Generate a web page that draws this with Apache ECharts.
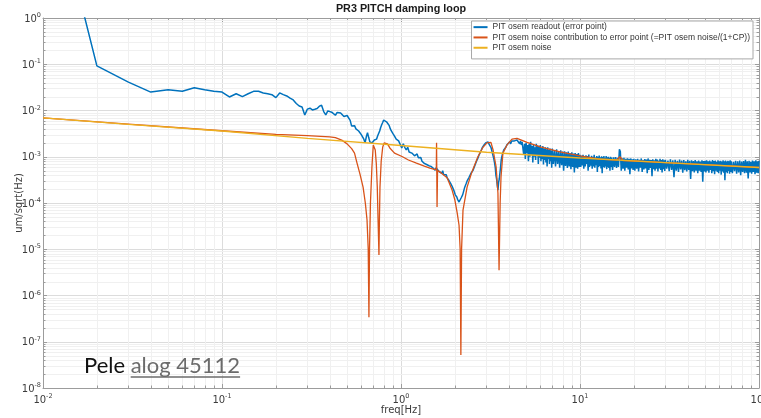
<!DOCTYPE html>
<html>
<head>
<meta charset="utf-8">
<script src="https://cdn.jsdelivr.net/npm/echarts@6/dist/echarts.min.js"></script>
<style>
  html, body { margin: 0; padding: 0; background: #ffffff; }
  #chart { width: 761px; height: 418px; }
</style>
</head>
<body>
<div id="chart"></div>
<script>
// PR3 PITCH damping loop: amplitude spectral densities [um/sqrt(Hz)] vs frequency [Hz]

const seriesNames = [
  'PIT osem readout (error point)',
  'PIT osem noise contribution to error point (=PIT osem noise/(1+CP))',
  'PIT osem noise'
];

// tick labels are powers of ten: base "10" with these exponents
const xTickExponents = ['-2', '-1', '0', '1', '2'];
const yTickExponents = ['-8', '-7', '-6', '-5', '-4', '-3', '-2', '-1', '0'];

// error-point readout, low-frequency bins
const readoutLow = [
  [0.01, 4000], [0.02, 0.092], [0.03, 0.041], [0.04, 0.025], [0.05, 0.028], [0.06, 0.026],
  [0.07, 0.031], [0.08, 0.028], [0.09, 0.026], [0.10, 0.025], [0.11, 0.0196], [0.12, 0.023],
  [0.13, 0.020], [0.14, 0.023], [0.15, 0.026], [0.16, 0.026], [0.17, 0.024], [0.18, 0.023],
  [0.19, 0.022], [0.20, 0.019]
];

// error-point readout, 0.2 - 4.8 Hz
const readoutMid = [
  [0.21, 0.024], [0.22, 0.022], [0.23, 0.0206], [0.24, 0.0185], [0.25, 0.0169], [0.26, 0.0142],
  [0.27, 0.0125], [0.28, 0.0119], [0.29, 0.0080], [0.30, 0.0107], [0.31, 0.0112], [0.32, 0.0103],
  [0.33, 0.0106], [0.34, 0.0110], [0.35, 0.0124], [0.36, 0.0130], [0.37, 0.0095], [0.38, 0.0080],
  [0.39, 0.0098], [0.40, 0.0103], [0.41, 0.0092], [0.42, 0.0084], [0.43, 0.0079], [0.44, 0.0091],
  [0.45, 0.0086], [0.46, 0.0088], [0.47, 0.0081], [0.48, 0.0074], [0.49, 0.0071], [0.50, 0.0078],
  [0.51, 0.0080], [0.52, 0.0061], [0.53, 0.0046], [0.54, 0.0044], [0.55, 0.0047], [0.56, 0.0040],
  [0.57, 0.0038], [0.58, 0.0036], [0.59, 0.0033], [0.60, 0.0030], [0.61, 0.0029], [0.62, 0.0024],
  [0.63, 0.0020], [0.64, 0.0027], [0.65, 0.0033], [0.66, 0.0026], [0.67, 0.0021], [0.68, 0.0023],
  [0.69, 0.0020], [0.70, 0.0020], [0.71, 0.0023], [0.72, 0.0025], [0.73, 0.0024], [0.74, 0.0028],
  [0.75, 0.0030], [0.76, 0.0036], [0.77, 0.0043], [0.78, 0.0049], [0.79, 0.0055], [0.80, 0.0062],
  [0.81, 0.0066], [0.82, 0.0063], [0.83, 0.0057], [0.84, 0.0059], [0.85, 0.0054], [0.86, 0.0047],
  [0.87, 0.0041], [0.88, 0.0037], [0.89, 0.0034], [0.90, 0.0032], [0.92, 0.0028], [0.94, 0.0024],
  [0.95, 0.0025], [0.97, 0.0022], [0.99, 0.0021], [1.01, 0.00155], [1.03, 0.0019], [1.05, 0.0016],
  [1.07, 0.0014], [1.09, 0.0016], [1.11, 0.00127], [1.13, 0.0014], [1.15, 0.0012], [1.17, 0.00125],
  [1.19, 0.00105], [1.21, 0.0011], [1.23, 0.00115], [1.25, 0.00095], [1.27, 0.00088], [1.29, 0.00096],
  [1.31, 0.0008], [1.33, 0.00086], [1.35, 0.00072], [1.37, 0.00079], [1.39, 0.00068], [1.41, 0.00075],
  [1.43, 0.00064], [1.45, 0.0007], [1.47, 0.00062], [1.49, 0.00066], [1.51, 0.00057], [1.53, 0.00061],
  [1.55, 0.00051], [1.57, 0.00058], [1.59, 0.00055], [1.61, 0.00059], [1.63, 0.00048], [1.65, 0.00053],
  [1.67, 0.00046], [1.69, 0.00044], [1.71, 0.0005], [1.73, 0.00041], [1.75, 0.00043], [1.77, 0.00038],
  [1.79, 0.00041], [1.81, 0.00035], [1.83, 0.00036], [1.85, 0.00031], [1.87, 0.00032], [1.89, 0.00027],
  [1.91, 0.00028], [1.93, 0.00023], [1.95, 0.00022], [1.97, 0.00019], [1.99, 0.00018], [2.01, 0.00015],
  [2.03, 0.00016], [2.05, 0.000135], [2.07, 0.00012], [2.09, 0.00011], [2.11, 0.000105], [2.13, 0.000098],
  [2.15, 0.00011], [2.17, 0.00013], [2.19, 0.00012], [2.21, 0.00015], [2.23, 0.00017], [2.25, 0.00018],
  [2.27, 0.00022], [2.29, 0.00021], [2.31, 0.00026], [2.33, 0.00027], [2.35, 0.00031], [2.37, 0.0003],
  [2.40, 0.00036], [2.43, 0.00038], [2.46, 0.00044], [2.49, 0.00043], [2.52, 0.0005], [2.55, 0.00053],
  [2.58, 0.00063], [2.61, 0.00068], [2.64, 0.0008], [2.67, 0.00086], [2.70, 0.00097], [2.73, 0.0011],
  [2.76, 0.00115], [2.79, 0.0013], [2.82, 0.00135], [2.85, 0.0016], [2.88, 0.0015], [2.91, 0.0018],
  [2.94, 0.0017], [2.97, 0.0020], [3.00, 0.0019], [3.03, 0.0022], [3.06, 0.0021], [3.09, 0.0022],
  [3.12, 0.0018], [3.15, 0.0019], [3.18, 0.0016], [3.21, 0.0014], [3.24, 0.0012], [3.27, 0.0011],
  [3.30, 0.0009], [3.33, 0.00075], [3.36, 0.0006], [3.39, 0.0004], [3.42, 0.00033], [3.45, 0.00024],
  [3.48, 0.00019], [3.51, 0.00028], [3.54, 0.00033], [3.57, 0.00036], [3.60, 0.0006], [3.63, 0.00085],
  [3.66, 0.001], [3.69, 0.00115], [3.72, 0.0012], [3.75, 0.0014], [3.80, 0.0015], [3.85, 0.0016],
  [3.90, 0.0018], [3.95, 0.0017], [4.00, 0.0019], [4.05, 0.0021], [4.10, 0.0019], [4.15, 0.0022],
  [4.20, 0.0021], [4.25, 0.0024], [4.30, 0.0022], [4.35, 0.0023], [4.40, 0.0020], [4.45, 0.0023],
  [4.50, 0.0021], [4.55, 0.0024], [4.60, 0.0019], [4.65, 0.0022], [4.70, 0.0018], [4.75, 0.0021]
];

// error-point readout, 4.8 - 100 Hz (sensor-noise dominated band)
const readoutHigh = [
  [4.80, 2.2e-3], [4.85, 1.1e-3], [4.90, 1.9e-3], [4.95, 0.9e-3], [5.00, 2.0e-3], [5.05, 1.2e-3],
  [5.10, 1.8e-3], [5.15, 0.8e-3], [5.20, 1.9e-3], [5.25, 1.0e-3], [5.30, 2.1e-3], [5.35, 1.1e-3],
  [5.40, 1.7e-3], [5.45, 0.75e-3], [5.50, 1.85e-3], [5.55, 1.0e-3], [5.60, 1.6e-3], [5.65, 0.85e-3],
  [5.70, 1.9e-3], [5.75, 1.05e-3], [5.80, 1.75e-3], [5.85, 0.7e-3], [5.90, 1.7e-3], [5.95, 0.95e-3],
  [6.00, 1.8e-3], [6.05, 0.8e-3], [6.10, 1.55e-3], [6.15, 0.9e-3], [6.20, 1.7e-3], [6.25, 0.68e-3],
  [6.30, 1.5e-3], [6.35, 0.85e-3], [6.40, 1.6e-3], [6.45, 0.75e-3], [6.50, 1.45e-3], [6.55, 0.62e-3],
  [6.60, 1.6e-3], [6.65, 0.9e-3], [6.70, 1.4e-3], [6.75, 0.7e-3], [6.80, 1.5e-3], [6.85, 0.8e-3],
  [6.90, 1.35e-3], [6.95, 0.58e-3], [7.00, 1.5e-3],
  [7.1, 0.7e-3], [7.2, 1.4e-3], [7.3, 0.62e-3], [7.4, 1.45e-3], [7.5, 0.7e-3], [7.6, 1.3e-3],
  [7.7, 0.58e-3], [7.8, 1.38e-3], [7.9, 0.66e-3], [8.0, 1.3e-3], [8.1, 0.5e-3], [8.2, 1.32e-3],
  [8.3, 0.63e-3], [8.4, 1.25e-3], [8.5, 0.57e-3], [8.6, 1.3e-3], [8.7, 0.62e-3], [8.8, 1.2e-3],
  [8.9, 0.54e-3], [9.0, 1.25e-3], [9.1, 0.6e-3], [9.2, 1.18e-3], [9.3, 0.46e-3], [9.4, 1.2e-3],
  [9.5, 0.58e-3], [9.6, 1.15e-3], [9.7, 0.55e-3], [9.8, 1.2e-3], [9.9, 0.6e-3], [10.0, 1.1e-3],
  [10.1, 0.6e-3], [10.2, 1.05e-3], [10.3, 0.65e-3], [10.4, 1.1e-3], [10.5, 0.55e-3], [10.6, 1.0e-3],
  [10.7, 0.62e-3], [10.8, 1.08e-3], [10.9, 0.7e-3], [11.0, 1.04e-3], [11.1, 0.5e-3], [11.2, 1.12e-3],
  [11.3, 0.6e-3], [11.4, 0.98e-3], [11.5, 0.64e-3], [11.6, 1.05e-3], [11.7, 0.55e-3], [11.8, 1.0e-3],
  [11.9, 0.62e-3], [12.0, 1.1e-3], [12.1, 0.58e-3], [12.2, 0.96e-3], [12.3, 0.66e-3], [12.4, 1.04e-3],
  [12.5, 0.47e-3], [12.6, 1.0e-3], [12.7, 0.6e-3], [12.8, 1.06e-3], [12.9, 0.63e-3], [13.0, 0.97e-3],
  [13.1, 0.56e-3], [13.2, 1.02e-3], [13.3, 0.44e-3], [13.4, 0.99e-3], [13.5, 0.6e-3], [13.6, 1.03e-3],
  [13.7, 0.58e-3], [13.8, 0.95e-3], [13.9, 0.62e-3], [14.0, 1.04e-3], [14.1, 0.54e-3], [14.2, 0.97e-3],
  [14.3, 0.6e-3], [14.4, 1.0e-3], [14.5, 0.57e-3], [14.6, 0.94e-3], [14.7, 0.5e-3], [14.8, 1.0e-3],
  [14.9, 0.6e-3], [15.0, 0.96e-3],
  [15.2, 0.52e-3], [15.4, 0.97e-3], [15.6, 0.6e-3], [15.8, 0.99e-3], [16.0, 0.57e-3], [16.2, 0.95e-3],
  [16.4, 0.6e-3], [16.6, 1.45e-3], [16.8, 1.3e-3], [17.0, 0.5e-3], [17.2, 0.92e-3], [17.4, 0.55e-3],
  [17.6, 0.95e-3], [17.8, 0.5e-3], [18.0, 0.9e-3], [18.2, 0.58e-3], [18.4, 0.93e-3], [18.6, 0.53e-3],
  [18.8, 0.9e-3], [19.0, 0.42e-3], [19.2, 0.92e-3], [19.4, 0.56e-3], [19.6, 0.88e-3], [19.8, 0.52e-3],
  [20.0, 0.9e-3],
  [20.25, 0.5e-3], [20.5, 0.88e-3], [20.75, 0.55e-3], [21.0, 0.9e-3], [21.25, 0.48e-3], [21.5, 0.86e-3],
  [21.75, 0.58e-3], [22.0, 0.92e-3], [22.25, 0.47e-3], [22.5, 0.85e-3], [22.75, 0.53e-3], [23.0, 0.89e-3],
  [23.25, 0.56e-3], [23.5, 0.87e-3], [23.75, 0.44e-3], [24.0, 0.92e-3], [24.25, 0.52e-3], [24.5, 0.86e-3],
  [24.75, 0.57e-3], [25.0, 0.85e-3], [25.25, 0.38e-3], [25.5, 0.88e-3], [25.75, 0.54e-3], [26.0, 0.84e-3],
  [26.25, 0.5e-3], [26.5, 0.9e-3], [26.75, 0.55e-3], [27.0, 0.87e-3], [27.25, 0.48e-3], [27.5, 0.83e-3],
  [27.75, 0.56e-3], [28.0, 0.9e-3], [28.25, 0.52e-3], [28.5, 0.85e-3], [28.75, 0.46e-3], [29.0, 0.88e-3],
  [29.25, 0.54e-3], [29.5, 0.84e-3], [29.75, 0.49e-3], [30.0, 0.86e-3],
  [30.5, 0.55e-3], [31.0, 0.83e-3], [31.5, 0.49e-3], [32.0, 0.88e-3], [32.5, 0.52e-3], [33.0, 0.84e-3],
  [33.5, 0.36e-3], [34.0, 0.86e-3], [34.5, 0.5e-3], [35.0, 0.82e-3], [35.5, 0.47e-3], [36.0, 0.87e-3],
  [36.5, 0.53e-3], [37.0, 0.83e-3], [37.5, 0.45e-3], [38.0, 0.85e-3], [38.5, 0.51e-3], [39.0, 0.8e-3],
  [39.5, 0.48e-3], [40.0, 0.86e-3], [40.5, 0.52e-3], [41.0, 0.82e-3], [41.5, 0.33e-3], [42.0, 0.84e-3],
  [42.5, 0.49e-3], [43.0, 0.81e-3], [43.5, 0.46e-3], [44.0, 0.85e-3], [44.5, 0.5e-3], [45.0, 0.8e-3],
  [45.5, 0.44e-3], [46.0, 0.83e-3], [46.5, 0.5e-3], [47.0, 0.79e-3], [47.5, 0.47e-3], [48.0, 0.84e-3],
  [48.5, 0.29e-3], [49.0, 0.81e-3], [49.5, 0.48e-3], [50.0, 0.82e-3],
  [50.5, 0.46e-3], [51.0, 0.84e-3], [51.5, 0.5e-3], [52.0, 0.8e-3], [52.5, 0.45e-3], [53.0, 0.83e-3],
  [53.5, 0.52e-3], [54.0, 0.79e-3], [54.5, 0.44e-3], [55.0, 0.85e-3], [55.5, 0.49e-3], [56.0, 0.81e-3],
  [56.5, 0.42e-3], [57.0, 0.83e-3], [57.5, 0.5e-3], [58.0, 0.78e-3], [58.5, 0.47e-3], [59.0, 0.84e-3],
  [59.5, 0.44e-3], [60.0, 0.8e-3], [60.5, 0.5e-3], [61.0, 0.82e-3], [61.5, 0.41e-3], [62.0, 0.79e-3],
  [62.5, 0.48e-3], [63.0, 0.84e-3], [63.5, 0.45e-3], [64.0, 0.8e-3], [64.5, 0.31e-3], [65.0, 0.83e-3],
  [65.5, 0.47e-3], [66.0, 0.79e-3], [66.5, 0.44e-3], [67.0, 0.82e-3], [67.5, 0.49e-3], [68.0, 0.8e-3],
  [68.5, 0.43e-3], [69.0, 0.84e-3], [69.5, 0.47e-3], [70.0, 0.8e-3],
  [71, 0.44e-3], [72, 0.78e-3], [73, 0.49e-3], [74, 0.82e-3], [75, 0.43e-3], [76, 0.8e-3],
  [77, 0.46e-3], [78, 0.83e-3], [79, 0.4e-3], [80, 0.79e-3], [81, 0.47e-3], [82, 0.81e-3],
  [83, 0.44e-3], [84, 0.86e-3], [85, 0.45e-3], [86, 0.8e-3], [87, 0.34e-3], [88, 0.82e-3],
  [89, 0.46e-3], [90, 0.78e-3], [91, 0.43e-3], [92, 0.83e-3], [93, 0.47e-3], [94, 0.8e-3],
  [95, 0.42e-3], [96, 0.84e-3], [97, 0.45e-3], [98, 0.79e-3], [99, 0.44e-3], [100, 0.82e-3]
];

// osem noise propagated to the error point: noise / (1 + CP)
const noiseContribution = [
  [0.01, 6.9e-3], [0.03, 5.05e-3], [0.1, 3.65e-3], [0.2, 3.05e-3], [0.3, 2.85e-3], [0.4, 2.7e-3],
  [0.43, 2.6e-3], [0.47, 2.25e-3], [0.5, 1.9e-3], [0.53, 1.5e-3], [0.55, 1.2e-3], [0.568, 7.3e-4],
  [0.59, 4.2e-4], [0.614, 2.2e-4], [0.632, 1.0e-4], [0.646, 4.3e-5], [0.656, 1.0e-5], [0.662, 3.4e-7],
  [0.667, 1.0e-5], [0.675, 1.0e-4], [0.688, 6.0e-4], [0.7, 1.8e-3], [0.71, 1.65e-3], [0.718, 1.4e-3],
  [0.728, 7.0e-4], [0.737, 2.2e-4], [0.745, 4.0e-5], [0.753, 7.5e-6], [0.758, 5.0e-5], [0.763, 2.2e-4],
  [0.775, 8.0e-4], [0.79, 1.6e-3], [0.805, 2.0e-3], [0.822, 2.2e-3], [0.84, 1.9e-3], [0.866, 1.55e-3],
  [0.92, 1.2e-3], [1.02, 1.0e-3], [1.1, 8.5e-4], [1.22, 7.3e-4], [1.35, 6.3e-4], [1.45, 5.7e-4],
  [1.575, 5.2e-4], [1.58, 2.0e-3], [1.59, 8.2e-5], [1.6, 5.0e-4], [1.65, 4.7e-4], [1.81, 3.5e-4],
  [1.93, 1.9e-4], [2.0, 1.16e-4], [2.06, 6.1e-5], [2.11, 3.3e-5], [2.14, 1.0e-5], [2.16, 5.2e-8],
  [2.18, 1.0e-5], [2.22, 7.0e-5], [2.34, 2.2e-4], [2.49, 4.7e-4], [2.69, 1.0e-3], [2.87, 1.6e-3],
  [3.02, 2.0e-3], [3.18, 2.05e-3], [3.27, 1.4e-3], [3.4, 6.0e-4], [3.48, 1.65e-4], [3.53, 3.5e-6],
  [3.58, 1.0e-4], [3.62, 3.65e-4], [3.71, 1.2e-3], [3.91, 1.8e-3], [4.17, 2.4e-3], [4.45, 2.5e-3],
  [5.06, 2.05e-3], [6.0, 1.63e-3], [7.73, 1.27e-3], [10, 1.04e-3], [12.9, 8.9e-4], [16.1, 8.5e-4],
  [16.7, 1.0e-3], [17.4, 8.3e-4], [20, 8.1e-4], [30, 7.5e-4], [50, 6.75e-4], [100, 5.85e-4]
];

// osem sensor noise model
const osemNoise = [
  [0.01, 6.9e-3], [0.03, 5.0e-3], [0.1, 3.6e-3], [0.3, 2.5e-3], [1, 1.75e-3],
  [3, 1.25e-3], [10, 9.4e-4], [30, 7.5e-4], [100, 5.85e-4]
];

// decade multipliers for the minor grid
const minorSteps = [2, 3, 4, 5, 6, 7, 8, 9];
const xDecades = [0.01, 0.1, 1, 10];
const yDecades = [1e-8, 1e-7, 1e-6, 1e-5, 1e-4, 1e-3, 1e-2, 1e-1];

const minorMarks = [];
xDecades.forEach(d => minorSteps.forEach(m => minorMarks.push([m * d, 1, 0])));
yDecades.forEach(d => minorSteps.forEach(m => minorMarks.push([1, m * d, 1])));

const AXIS_COLOR = '#9c9c9c';
const LABEL_COLOR = '#3c3c3c';
const MINOR_GRID = '#f0f0f0';

const chart = echarts.init(document.getElementById('chart'), null, { renderer: 'canvas', devicePixelRatio: 1 });

function axisBase(extra) {
  return Object.assign({
    type: 'log',
    logBase: 10,
    axisLine: { show: true, onZero: false, lineStyle: { color: AXIS_COLOR, width: 1 } },
    axisTick: { show: true, inside: true, length: 4, lineStyle: { color: AXIS_COLOR } },
    minorTick: { show: false },
    minorSplitLine: { show: false }
  }, extra);
}

// "10" with a raised exponent
const powerRich = {
  b: { fontFamily: 'DejaVu Sans', fontSize: 10, lineHeight: 12, color: LABEL_COLOR, verticalAlign: 'bottom' },
  e: { fontFamily: 'DejaVu Sans', fontSize: 6.5, lineHeight: 7, color: LABEL_COLOR, verticalAlign: 'top' }
};
const powerLabel = exps => v => '{b|10}{e|' + exps[Math.round(Math.log10(v)) - Number(exps[0])] + '}';

const option = {
  animation: false,
  backgroundColor: '#ffffff',
  title: {
    text: 'PR3 PITCH damping loop',
    left: 401,
    top: 4,
    textAlign: 'center',
    padding: 0,
    textStyle: { fontFamily: 'Liberation Sans', fontWeight: 'bold', fontSize: 10.8, color: '#1a1a1a' }
  },
  legend: {
    data: seriesNames,
    orient: 'vertical',
    right: 8,
    top: 21,
    padding: [1, 3, 6, 2],
    itemGap: 0,
    itemWidth: 14,
    itemHeight: 2,
    icon: 'rect',
    backgroundColor: '#ffffff',
    borderColor: '#a8a8a8',
    borderWidth: 1,
    borderRadius: 0,
    selectedMode: false,
    textStyle: { fontFamily: 'Liberation Sans', fontSize: 8.5, color: '#333333', lineHeight: 10.3 }
  },
  grid: { left: 43, right: 2, top: 18, bottom: 30, containLabel: false, outerBoundsMode: 'none' },
  xAxis: [
    axisBase({
      position: 'bottom', min: 0.01, max: 100, splitNumber: 4,
      axisLabel: { margin: 5, formatter: powerLabel(xTickExponents), rich: powerRich },
      splitLine: { show: true, lineStyle: { color: '#dcdcdc', width: 1 } },
      name: 'freq[Hz]', nameLocation: 'middle', nameGap: 17, nameMoveOverlap: false,
      nameTextStyle: { fontFamily: 'DejaVu Sans', fontSize: 10, color: LABEL_COLOR }
    }),
    axisBase({
      position: 'top', min: 0.01, max: 100, splitNumber: 4,
      axisLabel: { show: false }, splitLine: { show: false }
    })
  ],
  yAxis: [
    axisBase({
      position: 'left', min: 1e-8, max: 1, splitNumber: 8,
      axisLabel: { margin: 2, formatter: powerLabel(yTickExponents), rich: powerRich },
      splitLine: { show: true, lineStyle: { color: '#dcdcdc', width: 1 } },
      name: 'um/sqrt(Hz)', nameLocation: 'middle', nameGap: 19, nameRotate: 90, nameMoveOverlap: false,
      nameTextStyle: { fontFamily: 'DejaVu Sans', fontSize: 10, color: LABEL_COLOR }
    }),
    axisBase({
      position: 'right', min: 1e-8, max: 1, splitNumber: 8,
      axisLabel: { show: false }, splitLine: { show: false }
    })
  ],
  graphic: [],
  series: [
    {
      name: 'minor grid',
      type: 'custom',
      silent: true,
      z: 1,
      xAxisIndex: 0, yAxisIndex: 0,
      data: minorMarks,
      renderItem: function (params, api) {
        const cs = params.coordSys;
        const kind = api.value(2);
        const left = cs.x, right = cs.x + cs.width, top = cs.y, bottom = cs.y + cs.height;
        if (kind === 0) {
          const x = Math.round(api.coord([api.value(0), 1])[0]) + 0.5;
          return { type: 'group', children: [
            { type: 'line', shape: { x1: x, y1: top, x2: x, y2: bottom }, style: { stroke: MINOR_GRID, lineWidth: 1 } },
            { type: 'line', shape: { x1: x, y1: bottom, x2: x, y2: bottom - 2.5 }, style: { stroke: AXIS_COLOR, lineWidth: 1 } },
            { type: 'line', shape: { x1: x, y1: top, x2: x, y2: top + 2.5 }, style: { stroke: AXIS_COLOR, lineWidth: 1 } }
          ] };
        }
        const y = Math.round(api.coord([1, api.value(1)])[1]) + 0.5;
        return { type: 'group', children: [
          { type: 'line', shape: { x1: left, y1: y, x2: right, y2: y }, style: { stroke: MINOR_GRID, lineWidth: 1 } },
          { type: 'line', shape: { x1: left, y1: y, x2: left + 2.5, y2: y }, style: { stroke: AXIS_COLOR, lineWidth: 1 } },
          { type: 'line', shape: { x1: right, y1: y, x2: right - 2.5, y2: y }, style: { stroke: AXIS_COLOR, lineWidth: 1 } }
        ] };
      }
    },
    {
      name: seriesNames[0],
      type: 'line',
      z: 3,
      data: readoutLow.concat(readoutMid, readoutHigh),
      symbol: 'none', showSymbol: false, sampling: null,
      lineStyle: { color: '#0072BD', width: 1.5 },
      itemStyle: { color: '#0072BD' }
    },
    {
      name: seriesNames[1],
      type: 'line',
      z: 3,
      data: noiseContribution,
      symbol: 'none', showSymbol: false,
      lineStyle: { color: '#D95319', width: 1.3 },
      itemStyle: { color: '#D95319' }
    },
    {
      name: seriesNames[2],
      type: 'line',
      z: 3,
      data: osemNoise,
      symbol: 'none', showSymbol: false,
      lineStyle: { color: '#EDB120', width: 1.3 },
      itemStyle: { color: '#EDB120' }
    }
  ]
};

chart.setOption(option);

// author note in the lower-left corner: "Pele alog 45112", the log reference underlined
(function addNote() {
  const font = '22px Lato';
  const ctx = document.createElement('canvas').getContext('2d');
  ctx.font = font;
  const wPele = ctx.measureText('Pele ').width;
  const wRef = ctx.measureText('alog 45112').width;
  const x0 = 84, top = 355, underline = 377;
  chart.setOption({
    graphic: [
      { type: 'text', x: x0, y: top, z: 100, silent: true,
        style: { text: 'Pele', font: font, fill: '#111111', verticalAlign: 'top' } },
      { type: 'text', x: x0 + wPele, y: top, z: 100, silent: true,
        style: { text: 'alog 45112', font: font, fill: '#6b6b6b', verticalAlign: 'top' } },
      { type: 'line', z: 100, silent: true,
        shape: { x1: x0 + wPele, y1: underline, x2: x0 + wPele + wRef, y2: underline },
        style: { stroke: '#6b6b6b', lineWidth: 1.3 } }
    ]
  });
})();
</script>
</body>
</html>
